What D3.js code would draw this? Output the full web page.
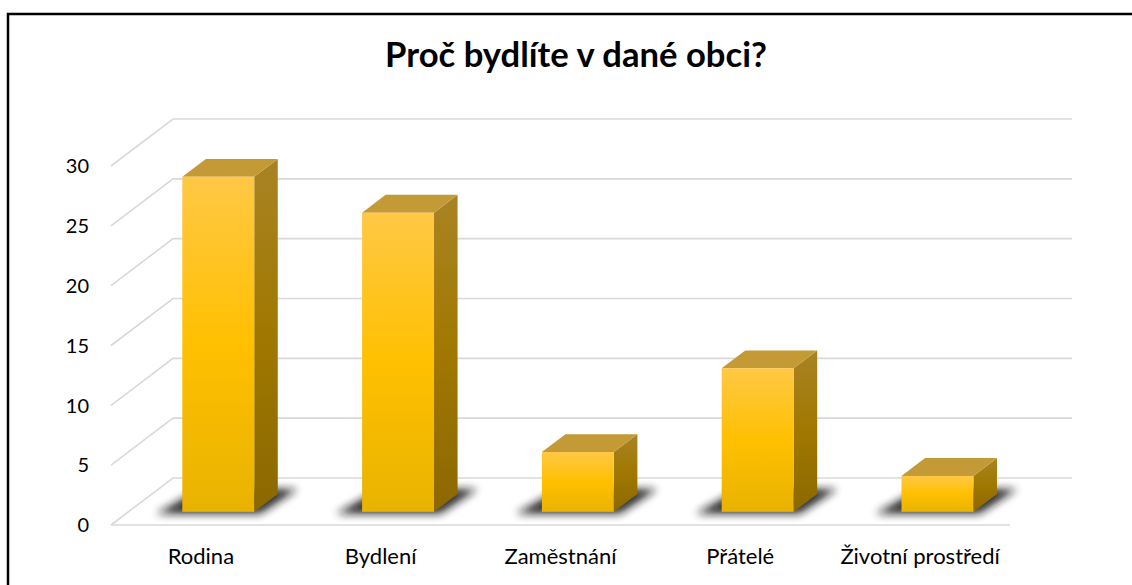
<!DOCTYPE html>
<html><head><meta charset="utf-8">
<script src="https://cdn.jsdelivr.net/npm/d3@7"></script>
<style>html,body{margin:0;padding:0;background:#fff;overflow:hidden}</style>
</head><body>
<svg id="c" width="1132" height="585"></svg>
<script>
const categories = ["Rodina", "Bydlení", "Zaměstnání", "Přátelé", "Životní prostředí"];
const values = [28, 25, 5, 12, 3];
const yTicks = [0, 5, 10, 15, 20, 25, 30];
const title = "Proč bydlíte v dané obci?";

const svg = d3.select("#c");
const font = "Lato, 'Open Sans', sans-serif";

// plane geometry
const floorLeft = 111, floorRight = 1010;
const depth = {dx: 62, dy: -47};          // full floor depth offset
const barFront = 0.28, barBack = 0.66;   // bar depth fraction
const x = d3.scaleBand().domain(categories).range([floorLeft, floorRight]).paddingInner(0).paddingOuter(0);
const y = d3.scaleLinear().domain([0, 30]).range([525, 166]);
const barW = x.bandwidth() * 0.40;

const defs = svg.append("defs");
const gF = defs.append("linearGradient").attr("id", "gFront").attr("x1", 0).attr("y1", 0).attr("x2", 0).attr("y2", 1);
gF.append("stop").attr("offset", "0%").attr("stop-color", "#FFC845");
gF.append("stop").attr("offset", "50%").attr("stop-color", "#FFC000");
gF.append("stop").attr("offset", "100%").attr("stop-color", "#E8B300");
const gS = defs.append("linearGradient").attr("id", "gSide").attr("x1", 0).attr("y1", 0).attr("x2", 0).attr("y2", 1);
gS.append("stop").attr("offset", "0%").attr("stop-color", "#A98324");
gS.append("stop").attr("offset", "50%").attr("stop-color", "#A07800");
gS.append("stop").attr("offset", "100%").attr("stop-color", "#8B6800");
const blur = defs.append("filter").attr("id", "blur").attr("x", "-50%").attr("y", "-100%").attr("width", "200%").attr("height", "300%");
blur.append("feGaussianBlur").attr("stdDeviation", 4.5);

// border
svg.append("rect").attr("x", 8).attr("y", 14).attr("width", 1140).attr("height", 600)
  .attr("fill", "none").attr("stroke", "#000").attr("stroke-width", 2.5);

// title
const t = svg.append("text").attr("x", 576).attr("y", 67).attr("text-anchor", "middle")
  .attr("font-family", font).attr("font-weight", "bold").attr("font-size", 30).attr("fill", "#000").text(title);
const tw = t.node().getComputedTextLength();
t.attr("font-size", 30 * 382 / tw);

// gridlines
const grid = svg.append("g").attr("stroke", "#D9D9D9").attr("stroke-width", 1.6).attr("fill", "none");
yTicks.forEach(v => {
  grid.append("path").attr("d", d3.line()([
    [floorLeft, y(v)], [floorLeft + depth.dx, y(v) + depth.dy], [floorRight + depth.dx, y(v) + depth.dy]
  ]));
});
grid.append("line").attr("x1", floorLeft).attr("x2", floorRight).attr("y1", y(0)).attr("y2", y(0));

// y tick labels
svg.append("g").selectAll("text").data(yTicks).join("text")
  .attr("x", 89).attr("y", d => y(d)).attr("dy", "0.36em").attr("text-anchor", "end")
  .attr("font-family", font).attr("font-size", 20).attr("fill", "#000").text(d => d);

// bars
const bars = svg.append("g");
categories.forEach((c, i) => {
  const v = values[i];
  const fx = depth.dx * barFront, fy = depth.dy * barFront;
  const bx = depth.dx * (barBack - barFront), by = depth.dy * (barBack - barFront);
  const x0 = x(c) + (x.bandwidth() - barW) / 2 + fx;
  const x1 = x0 + barW;
  const yb = y(0) + fy, yt = y(v) + fy;
  const g = bars.append("g");
  // shadow
  g.append("path").attr("d", d3.line()([
    [x0 - 26, yb + 2], [x1 + 6, yb + 2], [x1 + bx + 20, yb + by - 5], [x0 + bx - 6, yb + by - 5]
  ]) + "Z").attr("fill", "#151515").attr("opacity", 0.9).attr("filter", "url(#blur)");
  // side
  g.append("path").attr("d", d3.line()([[x1, yt], [x1 + bx, yt + by], [x1 + bx, yb + by], [x1, yb]]) + "Z")
    .attr("fill", "url(#gSide)");
  // top
  g.append("path").attr("d", d3.line()([[x0, yt], [x1, yt], [x1 + bx, yt + by], [x0 + bx, yt + by]]) + "Z")
    .attr("fill", "#C49A36");
  // front
  g.append("rect").attr("x", x0).attr("y", yt).attr("width", barW).attr("height", yb - yt)
    .attr("fill", "url(#gFront)");
});

// category labels
svg.append("g").selectAll("text").data(categories).join("text")
  .attr("x", d => x(d) + x.bandwidth() / 2).attr("y", 564).attr("text-anchor", "middle")
  .attr("font-family", font).attr("font-size", 22).attr("fill", "#000").text(d => d);
</script>
</body></html>
